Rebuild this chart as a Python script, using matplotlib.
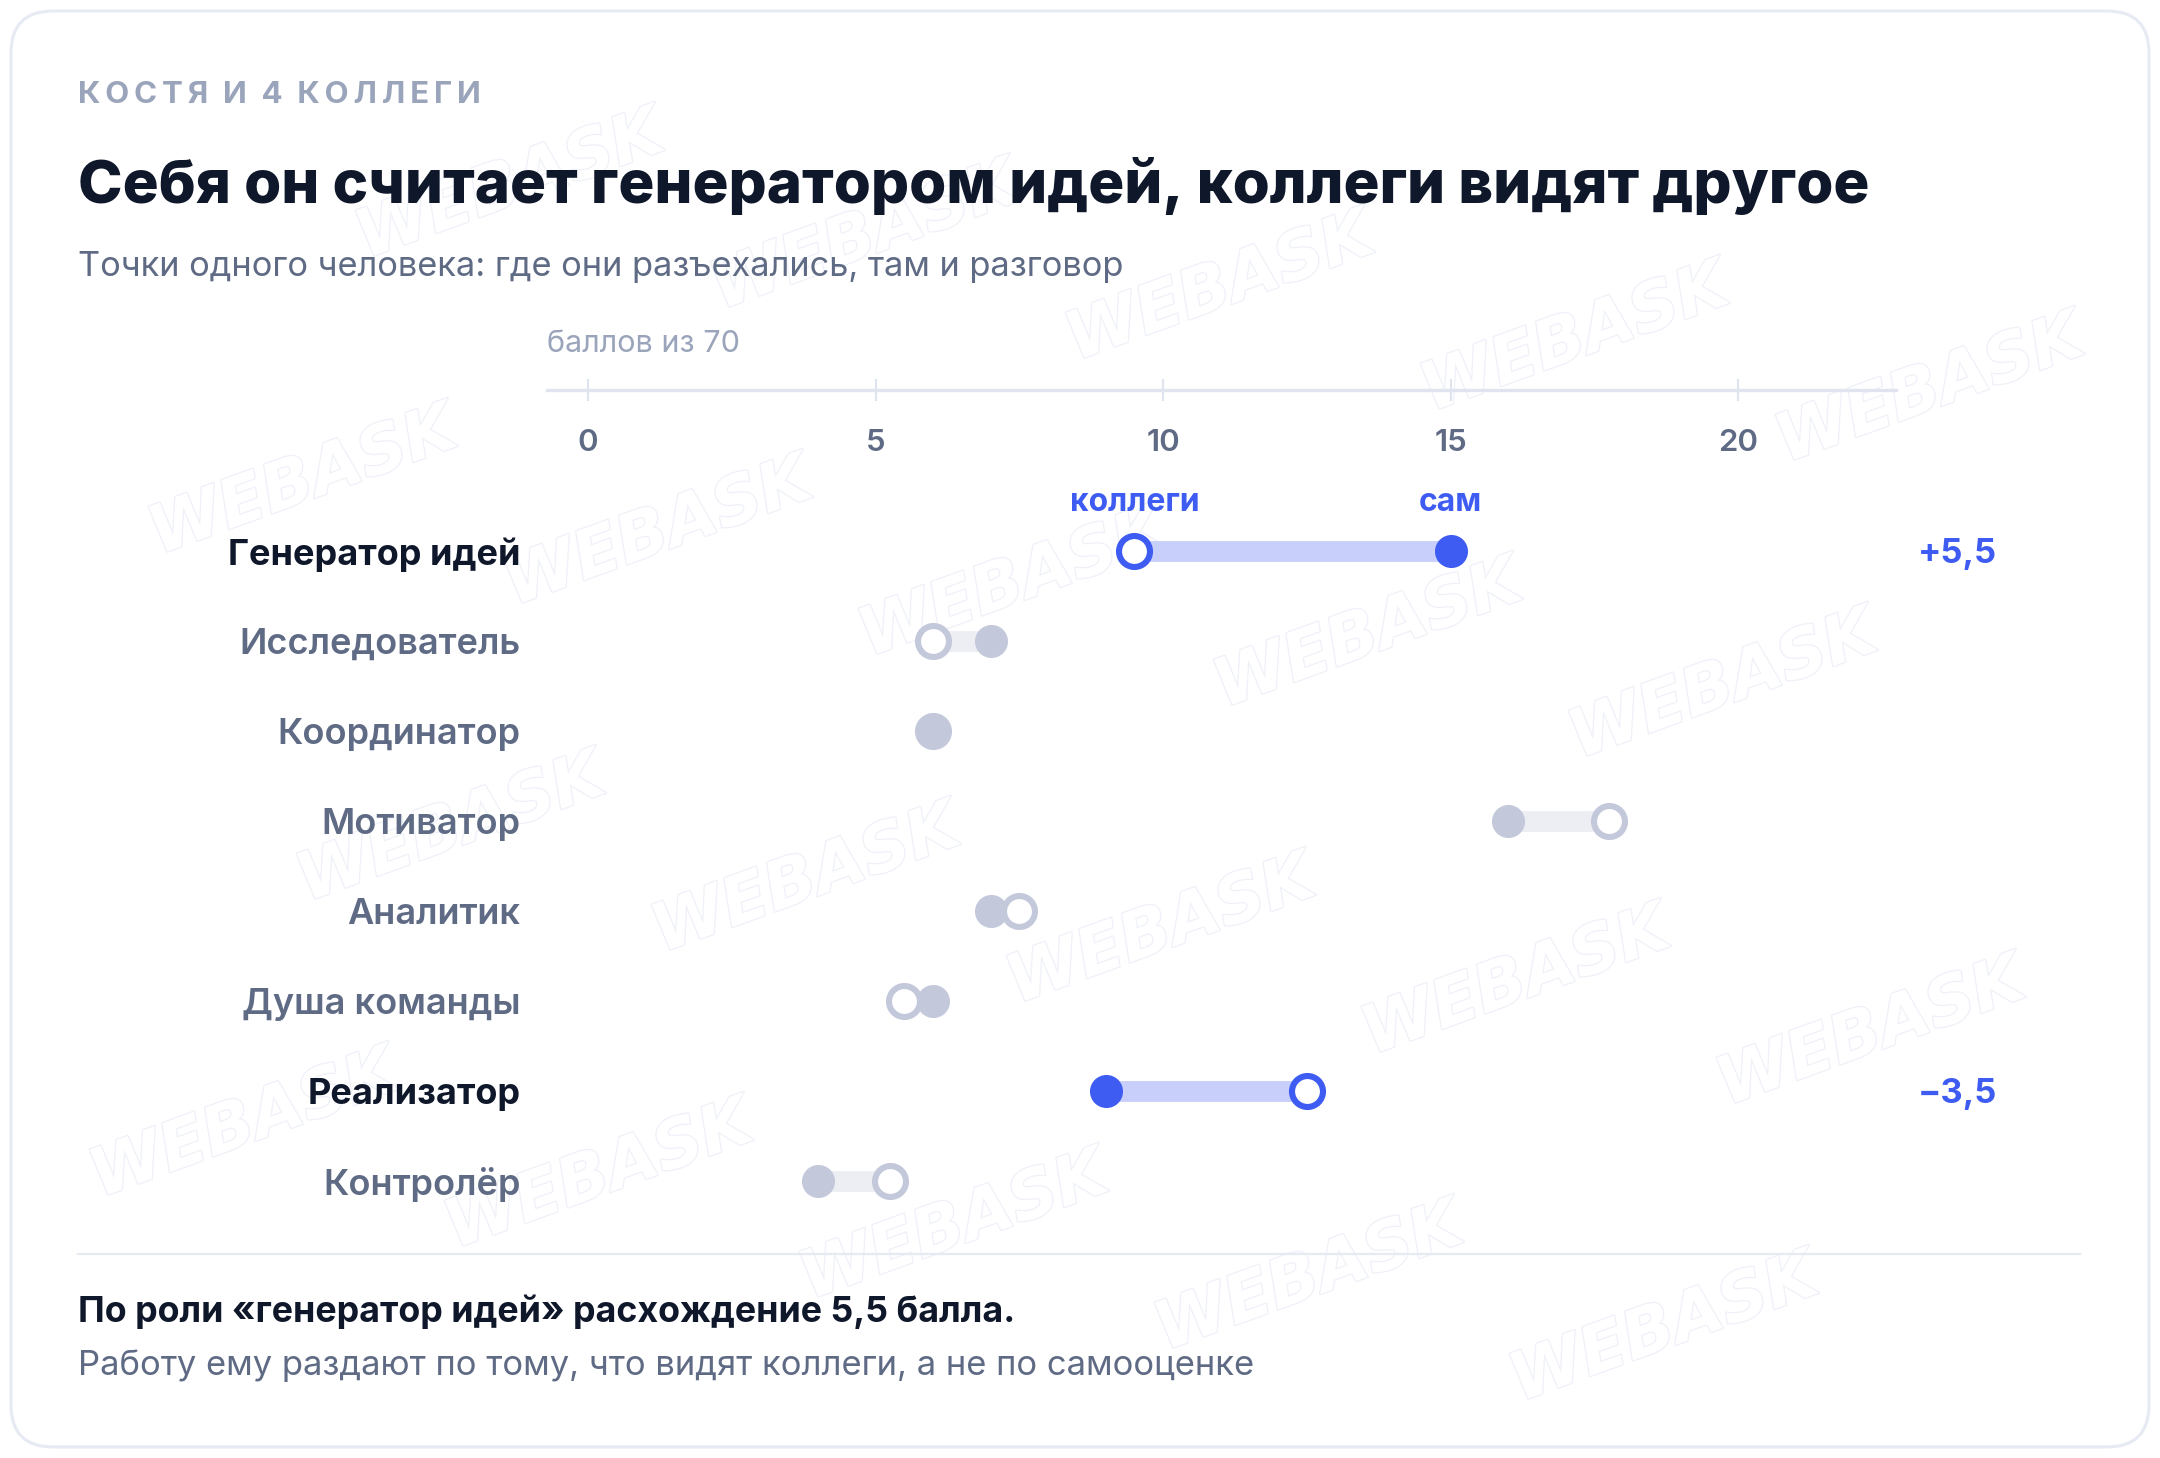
import matplotlib
matplotlib.use("Agg")
import matplotlib.pyplot as plt
from matplotlib.patches import FancyBboxPatch
import matplotlib.patheffects as pe

plt.rcParams['font.family'] = ['Inter', 'DejaVu Sans']

# -------------------------
# Data
# -------------------------
roles = ['Генератор идей', 'Исследователь', 'Координатор', 'Мотиватор',
         'Аналитик', 'Душа команды', 'Реализатор', 'Контролёр']
self_score = [15.0, 7.0, 6.0, 16.0, 7.0, 6.0, 9.0, 4.0]
peer_score = [9.5, 6.0, 6.0, 17.75, 7.5, 5.5, 12.5, 5.25]
highlight = ['Генератор идей', 'Реализатор']
x_ticks = [0, 5, 10, 15, 20]

kicker = 'КОСТЯ И 4 КОЛЛЕГИ'
title = 'Себя он считает генератором идей, коллеги видят другое'
subtitle = 'Точки одного человека: где они разъехались, там и разговор'
axis_note = 'баллов из 70'
footer_bold = 'По роли «генератор идей» расхождение 5,5 балла.'
footer_text = 'Работу ему раздают по тому, что видят коллеги, а не по самооценке'

# -------------------------
# Colours
# -------------------------
BLUE = '#3e5cf2'
BLUE_BAR = '#c7cffa'
GREY_DOT = '#c3c9db'
GREY_BAR = '#eceef4'
DARK = '#0f172a'
MUTED = '#5f6b84'
LIGHT = '#9aa4ba'
LINE = '#dfe4ee'

W, H = 2160, 1458
fig = plt.figure(figsize=(W / 100, H / 100), dpi=100)
fig.patch.set_facecolor('white')

# background layer in pixel coords
bg = fig.add_axes([0, 0, 1, 1])
bg.set_xlim(0, W)
bg.set_ylim(H, 0)
bg.axis('off')

card = FancyBboxPatch((11, 11), W - 22, H - 22,
                      boxstyle='round,pad=0,rounding_size=42',
                      fc='white', ec='#e6eaf2', lw=2.2, zorder=0)
bg.add_patch(card)

# faint watermark tiles (only the ones that fit inside the card)
for r in range(-2, 7):
    for c in range(-2, 9):
        wx = 303 + c * 355 - r * 207
        wy = 482 + c * 51 + r * 296
        if 190 < wx < W - 190 and 95 < wy < H - 95:
            t = bg.text(wx, wy, 'WEBASK', fontsize=48, fontweight='bold',
                        fontstyle='oblique', family='DejaVu Sans',
                        color='white', rotation=20, ha='center', va='center',
                        zorder=0.5)
            t.set_path_effects([pe.withStroke(linewidth=1.8, foreground='#eff1f9')])

# header texts
kick = '  '.join('\u2009'.join(w) for w in kicker.split(' '))
bg.text(78, 95, kick, fontsize=22.5, fontweight='bold', color=LIGHT,
        va='center', ha='left')
bg.text(78, 186, title, fontsize=43.2, fontweight=800, color=DARK,
        va='center', ha='left')
bg.text(78, 267, subtitle, fontsize=24.8, color=MUTED, va='center', ha='left')
bg.text(547, 344, axis_note, fontsize=22, color=LIGHT, va='center', ha='left')

# separator + footer
bg.plot([78, 2080], [1254, 1254], color='#e6eaf2', lw=1.6)
bg.text(78, 1312, footer_bold, fontsize=25.8, fontweight='bold', color=DARK,
        va='center', ha='left')
bg.text(78, 1366, footer_text, fontsize=24.9, color=MUTED, va='center', ha='left')

# -------------------------
# Chart axes
# -------------------------
px0, px1 = 547, 1896
py0, py1 = 390, 1230
ax = fig.add_axes([px0 / W, 1 - py1 / H, (px1 - px0) / W, (py1 - py0) / H])
ax.patch.set_alpha(0)
ax.set_xlim(-0.713, 22.74)
ax.set_ylim(7.54, -1.79)

for s in ['left', 'right', 'bottom']:
    ax.spines[s].set_visible(False)
ax.spines['top'].set_color(LINE)
ax.spines['top'].set_linewidth(2.4)

ax.xaxis.set_ticks_position('top')
ax.set_xticks(x_ticks)
ax.tick_params(axis='x', direction='inout', length=16, width=1.6, color=LINE,
               labeltop=False, labelbottom=False)
for t in x_ticks:
    ax.text(t, -1.2, str(t), fontsize=22.5, fontweight='semibold', color=MUTED,
            ha='center', va='center')

rows = list(range(len(roles)))
ax.set_yticks(rows)
ax.set_yticklabels(roles)
ax.tick_params(axis='y', length=0, pad=19)
for lab, role in zip(ax.get_yticklabels(), roles):
    lab.set_fontsize(26)
    lab.set_fontweight('bold' if role in highlight else 'semibold')
    lab.set_color(DARK if role in highlight else MUTED)

for i, role in enumerate(roles):
    hot = role in highlight
    col = BLUE if hot else GREY_DOT
    bar = BLUE_BAR if hot else GREY_BAR
    s, p = self_score[i], peer_score[i]
    ax.plot([p, s], [i, i], color=bar, lw=15, solid_capstyle='butt', zorder=2)
    dots = [(p, 0), (s, 1)]
    dots.sort()
    for x, filled in dots:
        if filled:
            ax.plot(x, i, 'o', ms=23.8, mfc=col, mec=col, mew=0, zorder=3)
        else:
            ax.plot(x, i, 'o', ms=22.3, mfc='white', mec=col, mew=4.4, zorder=3)
    if hot:
        d = s - p
        sign = '+' if d > 0 else '\u2212'
        lbl = sign + f'{abs(d):.1f}'.replace('.', ',')
        ax.text(24.5, i + 0.03, lbl, fontsize=24.8, fontweight='bold', color=BLUE,
                ha='right', va='center')

# series labels over the first highlighted row
first = roles.index(highlight[0])
ax.text(peer_score[first], first - 0.54, 'коллеги', fontsize=23,
        fontweight='bold', color=BLUE, ha='center', va='center')
ax.text(self_score[first], first - 0.54, 'сам', fontsize=23,
        fontweight='bold', color=BLUE, ha='center', va='center')

fig.savefig('out.png', dpi=100, facecolor='white')
